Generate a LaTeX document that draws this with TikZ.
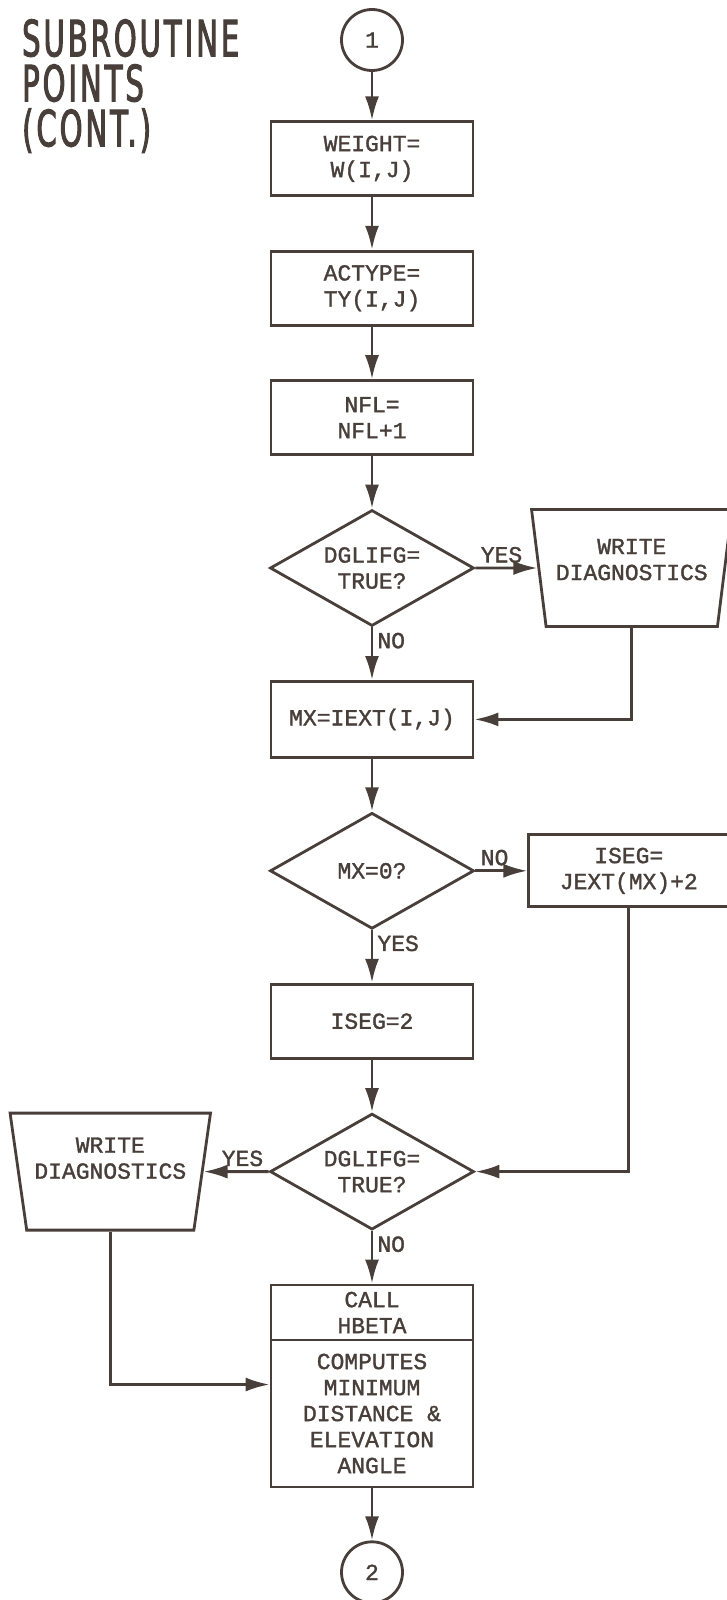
\documentclass[tikz,border=0pt]{standalone}
\usepackage{fontspec}
\setmonofont[FakeBold=1.4]{Liberation Mono}
\newfontfamily\titlefont[FakeStretch=0.58, FakeBold=2, LetterSpace=6]{DejaVu Sans}
\usepackage{xcolor}
\usepackage{tikz}
\usetikzlibrary{arrows.meta, positioning, shapes.geometric}
\definecolor{ink}{RGB}{72,62,58}

\begin{document}
\begin{tikzpicture}[
      x=1pt, y=1pt,
      node distance=52.6pt,
      every node/.style={font=\ttfamily\fontsize{23}{26}\selectfont, text=ink},
      proc/.style={rectangle, draw=ink, line width=2.8pt, minimum width=202pt, minimum height=74pt, align=center, inner sep=2pt},
      decide/.style={diamond, draw=ink, line width=2.8pt, aspect=1.75, minimum width=204pt, minimum height=116pt, align=center, inner sep=0pt},
      wrbox/.style={trapezium, trapezium left angle=102.5, trapezium right angle=102.5, trapezium stretches=true, draw=ink, line width=2.8pt, minimum width=201pt, minimum height=117pt, align=center, text depth=27pt, inner sep=0pt},
      conn/.style={circle, draw=ink, line width=2.8pt, minimum size=61pt, inner sep=0pt},
      flow/.style={draw=ink, line width=2.8pt, -{Latex[length=24pt, width=14pt]}},
      lbl/.style={inner sep=4pt}
    ]
      \useasboundingbox (0,0) rectangle (726,-1600);

      \node[anchor=north west, align=left, inner sep=0pt, font=\titlefont\fontsize{50}{45}\selectfont] (title) at (22,-19) {SUBROUTINE\\POINTS\\(CONT.)};

      \node[conn] (c1) at (372,-40) {1};
      \node[proc, below=48.5pt of c1] (weight) {WEIGHT=\\W(I,J)};
      \node[proc, below=of weight] (actype) {ACTYPE=\\TY(I,J)};
      \node[proc, below=of actype] (nfl) {NFL=\\NFL+1};
      \node[decide, below=of nfl] (dg1) {DGLIFG=\\TRUE?};
      \node[wrbox, right=62pt of dg1, text depth=17pt] (wr1) {WRITE\\DIAGNOSTICS};
      \node[proc, below=of dg1, minimum height=76pt] (mx) {MX=IEXT(I,J)};
      \node[decide, below=of mx] (dg2) {MX=0?};
      \node[proc, right=52pt of dg2, minimum width=200pt, minimum height=72pt] (isegj) {ISEG=\\JEXT(MX)+2};
      \node[proc, below=of dg2] (iseg2) {ISEG=2};
      \node[decide, below=of iseg2] (dg3) {DGLIFG=\\TRUE?};
      \node[wrbox, left=65pt of dg3] (wr2) {WRITE\\DIAGNOSTICS};
      \node[proc, below=of dg3, minimum height=55pt] (hbeta) {CALL\\HBETA};
      \node[proc, below=-2.8pt of hbeta, minimum height=147pt] (comp) {COMPUTES\\MINIMUM\\DISTANCE \&\\ELEVATION\\ANGLE};
      \node[conn, below=52pt of comp] (c2) {2};

      % main line
      \draw[flow] (c1) -- (weight);
      \draw[flow] (weight) -- (actype);
      \draw[flow] (actype) -- (nfl);
      \draw[flow] (nfl) -- (dg1);
      \draw[flow] (dg1) -- node[lbl, below right, pos=0] {NO} (mx);
      \draw[flow] (dg1) -- node[lbl, above right, pos=0] {YES} (wr1);
      \draw[flow] (wr1.south) |- (mx.east);
      \draw[flow] (mx) -- (dg2);
      \draw[flow] (dg2) -- node[lbl, above right, pos=0] {NO} (isegj);
      \draw[flow] (dg2) -- node[lbl, below right, pos=0] {YES} (iseg2);
      \draw[flow] (isegj.south) |- (dg3.east);
      \draw[flow] (iseg2) -- (dg3);
      \draw[flow] (dg3) -- node[lbl, above left, pos=0] {YES} (wr2);
      \draw[flow] (dg3) -- node[lbl, below right, pos=0] {NO} (hbeta);
      \draw[flow] (wr2.south) |- ([yshift=29pt]comp.west);
      \draw[flow] (comp) -- (c2);
    \end{tikzpicture}
\end{document}
